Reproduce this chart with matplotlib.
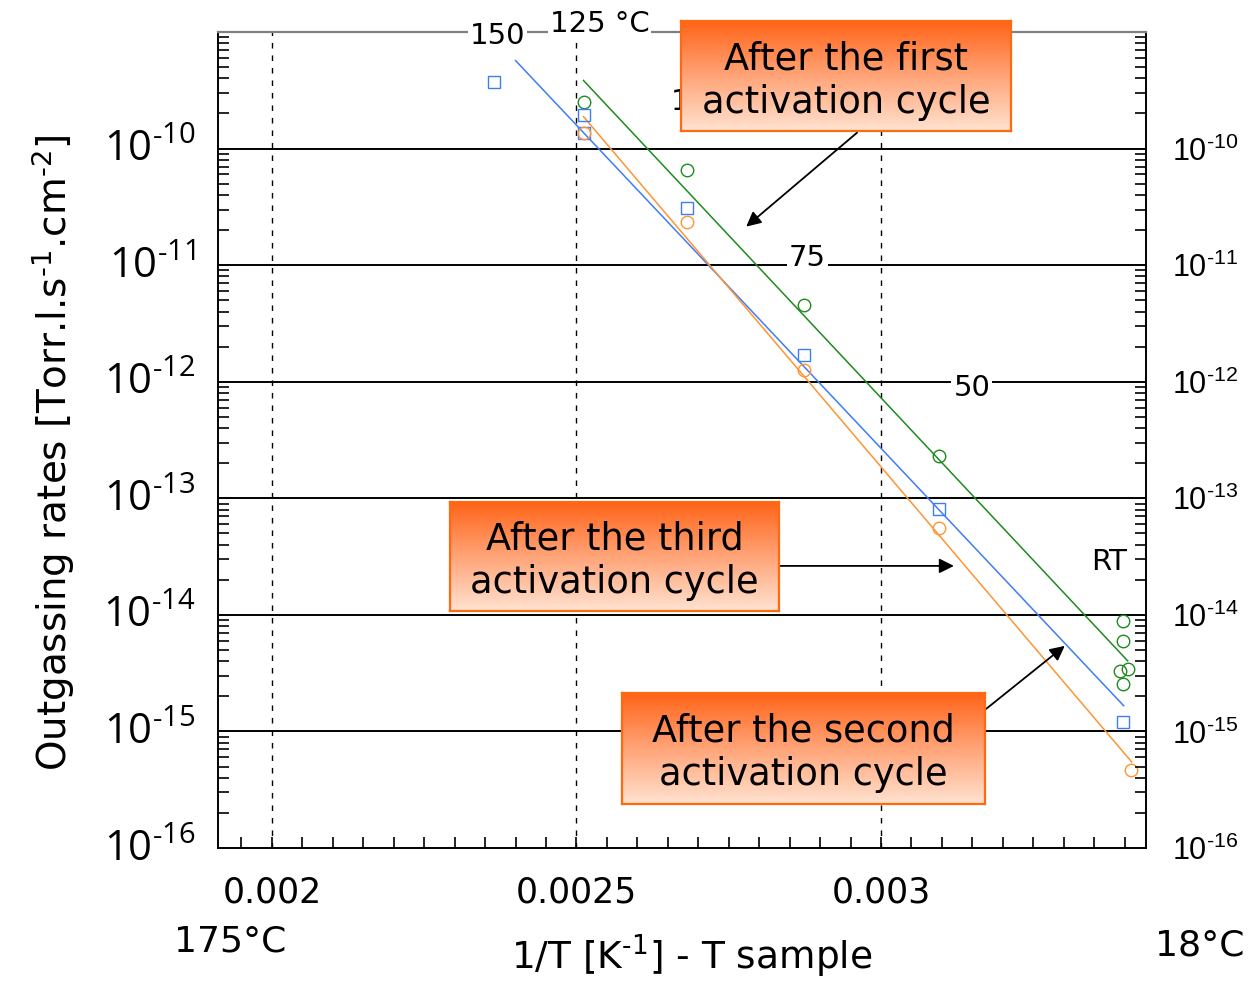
import numpy as np
import matplotlib
matplotlib.use("Agg")
import matplotlib.pyplot as plt
from matplotlib.colors import LinearSegmentedColormap
from matplotlib.ticker import FixedLocator, NullFormatter, LogLocator
from matplotlib.transforms import ScaledTranslation

plt.rcParams["mathtext.default"] = "regular"

# ---- data ----
# after the first activation cycle (green circles)
first_x = [0.002512, 0.002681, 0.002873, 0.003095, 0.003398, 0.003398, 0.003393, 0.003405, 0.003398]
first_y = [2.53e-10, 6.6e-11, 4.58e-12, 2.32e-13, 8.9e-15, 6.0e-15, 3.3e-15, 3.45e-15, 2.56e-15]
first_fit_x = [0.0025115, 0.0034049]
first_fit_y = [3.84e-10, 4.03e-15]

# after the second activation cycle (blue squares)
second_x = [0.002364, 0.002512, 0.002512, 0.002681, 0.002873, 0.003095, 0.003398]
second_y = [3.76e-10, 1.96e-10, 1.37e-10, 3.12e-11, 1.71e-12, 8.12e-14, 1.21e-15]
second_fit_x = [0.0024, 0.0033984]
second_fit_y = [5.69e-10, 1.66e-15]

# after the third activation cycle (orange circles)
third_x = [0.002512, 0.002681, 0.002873, 0.003095, 0.00341]
third_y = [1.37e-10, 2.36e-11, 1.27e-12, 5.58e-14, 4.67e-16]
third_fit_x = [0.0025115, 0.0034115]
third_fit_y = [1.88e-10, 5.47e-16]

# temperature labels along the grid
temp_labels = ["150", "125 °C", "100", "75", "50", "RT"]
temp_x = [0.0023705, 0.0025377, 0.0026557, 0.0028787, 0.0031492, 0.0033738]
temp_y = [9.3e-10, 1.16e-9, 2.53e-10, 1.16e-11, 8.87e-13, 2.85e-14]

x_ticks = [0.002, 0.0025, 0.003]
x_tick_labels = ["0.002", "0.0025", "0.003"]
decades = [-16, -15, -14, -13, -12, -11, -10]

C_BLUE = "#3f7df5"
C_ORANGE = "#ff9433"
C_GREEN = "#1f8a1f"
HY = "\u2010"  # short hyphen for exponents

fig = plt.figure(figsize=(12.48, 9.81), dpi=100)
ax = fig.add_axes([218 / 1248, 1 - 848 / 981, 928 / 1248, 816 / 981])
ax.set_yscale("log")
ax.set_xlim(0.0019115, 0.003435)
ax.set_ylim(1e-16, 1e-9)

# grid: solid decades, dashed verticals
for d in decades[1:]:
    ax.axhline(10.0 ** d, color="black", lw=1.4, zorder=1)
for xv in x_ticks:
    ax.axvline(xv, color="black", lw=1.0, ls=(0, (4, 5)), zorder=1)

# fits and points
ax.plot(first_fit_x, first_fit_y, color=C_GREEN, lw=1.1, zorder=2)
ax.plot(second_fit_x, second_fit_y, color=C_BLUE, lw=1.1, zorder=2)
ax.plot(third_fit_x, third_fit_y, color=C_ORANGE, lw=1.1, zorder=2)
ax.plot(first_x, first_y, "o", mfc="none", mec=C_GREEN, ms=9, mew=1.0, zorder=3)
ax.plot(second_x, second_y, "s", mfc="none", mec=C_BLUE, ms=9, mew=1.0, zorder=3)
ax.plot(third_x, third_y, "o", mfc="none", mec=C_ORANGE, ms=9, mew=1.0, zorder=3)

for lab, tx, ty in zip(temp_labels, temp_x, temp_y):
    ha = "left" if lab == "100" else "center"
    ax.text(tx, ty, lab, fontsize=21, ha=ha, va="center", family="DejaVu Sans",
            bbox=dict(facecolor="white", edgecolor="none", pad=1.5),
            zorder=4, clip_on=False)

# spines and ticks
for s in ["left", "bottom", "right"]:
    ax.spines[s].set_linewidth(1.4)
ax.spines["top"].set_color("#808080")
ax.spines["top"].set_linewidth(1.6)

ax.xaxis.set_major_locator(FixedLocator(x_ticks))
ax.xaxis.set_minor_locator(FixedLocator(np.arange(0.00195, 0.00343, 0.00005)))
ax.set_xticklabels(x_tick_labels, fontsize=25, family="DejaVu Sans")
ax.tick_params(axis="x", which="both", direction="in", length=8, width=1.2,
               top=False, pad=20)

ax.yaxis.set_major_locator(FixedLocator([10.0 ** d for d in decades]))
ax.yaxis.set_minor_locator(LogLocator(base=10, subs=np.arange(2, 10), numticks=20))
ax.yaxis.set_minor_formatter(NullFormatter())
ax.set_yticklabels([f"$10^{{{HY}{-d}}}$" for d in decades], fontsize=30, family="Open Sans")
ax.tick_params(axis="y", which="both", direction="in", length=8, width=1.2, pad=16,
               left=True, right=False)
ax.tick_params(axis="y", which="major", length=0)
for lbl in ax.get_yticklabels():
    lbl.set_transform(lbl.get_transform() + ScaledTranslation(0, 2.5 / 72, fig.dpi_scale_trans))

ax2 = ax.twinx()
ax2.set_yscale("log")
ax2.set_ylim(ax.get_ylim())
ax2.yaxis.set_major_locator(FixedLocator([10.0 ** d for d in decades]))
ax2.yaxis.set_minor_locator(LogLocator(base=10, subs=np.arange(2, 10), numticks=20))
ax2.yaxis.set_minor_formatter(NullFormatter())
ax2.set_yticklabels([f"$10^{{{HY}{-d}}}$" for d in decades], fontsize=22, family="Liberation Sans")
ax2.tick_params(axis="y", which="both", direction="in", length=8, width=1.2, pad=19)
ax2.tick_params(axis="y", which="major", length=0)
for s in ax2.spines.values():
    s.set_visible(False)

ax.set_ylabel(f"Outgassing rates [Torr.l.s$^{{{HY}1}}$.cm$^{{{HY}2}}$]", fontsize=28,
              family="DejaVu Sans")
ax.yaxis.set_label_coords(-0.152, 0.485)
ax.set_xlabel(f"1/T [K$^{{{HY}1}}$] - T sample", fontsize=27, family="DejaVu Sans")
ax.xaxis.set_label_coords(0.51, -0.103)
fig.text(230 / 1248, 1 - 942 / 981, "175°C", fontsize=26, ha="center", va="center",
         family="DejaVu Sans")
fig.text(1200 / 1248, 1 - 946 / 981, "18°C", fontsize=26, ha="center", va="center",
         family="DejaVu Sans")

# arrows from the boxes to the curves
arrows = [((0.0029607, 1.37e-10), (0.0027787, 2.14e-11)),
          ((0.0028311, 2.63e-14), (0.0031197, 2.63e-14)),
          ((0.0031705, 1.53e-15), (0.0033016, 5.42e-15))]
for tail, head in arrows:
    ax.annotate("", xy=head, xytext=tail,
                arrowprops=dict(arrowstyle="-|>", color="black", lw=1.3,
                                mutation_scale=22, shrinkA=0, shrinkB=0),
                zorder=5, annotation_clip=False)

# gradient label boxes
grad = LinearSegmentedColormap.from_list("box", ["#ff6418", "#ffa478", "#ffe2d0"])
boxes = [([681, 21, 330, 110], "After the first\nactivation cycle"),
         ([450, 502, 329, 109], "After the third\nactivation cycle"),
         ([622, 693, 363, 111], "After the second\nactivation cycle")]
for (bx, by, bw, bh), txt in boxes:
    bax = fig.add_axes([bx / 1248, 1 - (by + bh) / 981, bw / 1248, bh / 981])
    bax.imshow(np.linspace(0, 1, 256).reshape(-1, 1), aspect="auto", cmap=grad,
               extent=[0, 1, 0, 1])
    bax.set_xticks([])
    bax.set_yticks([])
    for s in bax.spines.values():
        s.set_color("#ff6a10")
        s.set_linewidth(1.6)
    bax.text(0.5, 0.46, txt, ha="center", va="center", fontsize=26.5,
             family="DejaVu Sans", linespacing=1.22, transform=bax.transAxes)

fig.savefig("out.png", dpi=100)
plt.close(fig)
